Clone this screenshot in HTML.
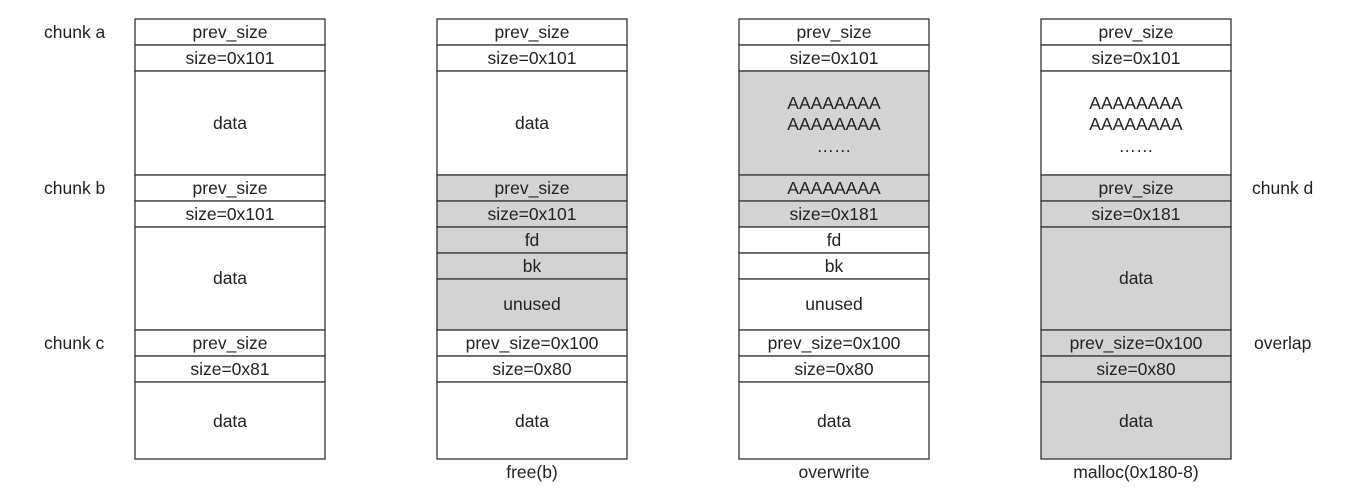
<!DOCTYPE html>
<html><head><meta charset="utf-8"><style>
html,body{margin:0;padding:0;background:#fff;}
svg{display:block;}
text{font-family:"Liberation Sans",sans-serif;font-size:17.5px;fill:#222;}
</style></head><body>
<svg width="1351" height="500" viewBox="0 0 1351 500" xmlns="http://www.w3.org/2000/svg">
<g stroke="#333" stroke-width="1.3">
<rect x="135" y="19" width="190" height="26" fill="#fff"/>
<rect x="135" y="45" width="190" height="26" fill="#fff"/>
<rect x="135" y="71" width="190" height="104" fill="#fff"/>
<rect x="135" y="175" width="190" height="26" fill="#fff"/>
<rect x="135" y="201" width="190" height="26" fill="#fff"/>
<rect x="135" y="227" width="190" height="103" fill="#fff"/>
<rect x="135" y="330" width="190" height="26" fill="#fff"/>
<rect x="135" y="356" width="190" height="26" fill="#fff"/>
<rect x="135" y="382" width="190" height="77" fill="#fff"/>
<rect x="437" y="19" width="190" height="26" fill="#fff"/>
<rect x="437" y="45" width="190" height="26" fill="#fff"/>
<rect x="437" y="71" width="190" height="104" fill="#fff"/>
<rect x="437" y="175" width="190" height="26" fill="#d3d3d3"/>
<rect x="437" y="201" width="190" height="26" fill="#d3d3d3"/>
<rect x="437" y="227" width="190" height="26" fill="#d3d3d3"/>
<rect x="437" y="253" width="190" height="26" fill="#d3d3d3"/>
<rect x="437" y="279" width="190" height="51" fill="#d3d3d3"/>
<rect x="437" y="330" width="190" height="26" fill="#fff"/>
<rect x="437" y="356" width="190" height="26" fill="#fff"/>
<rect x="437" y="382" width="190" height="77" fill="#fff"/>
<rect x="739" y="19" width="190" height="26" fill="#fff"/>
<rect x="739" y="45" width="190" height="26" fill="#fff"/>
<rect x="739" y="71" width="190" height="104" fill="#d3d3d3"/>
<rect x="739" y="175" width="190" height="26" fill="#d3d3d3"/>
<rect x="739" y="201" width="190" height="26" fill="#d3d3d3"/>
<rect x="739" y="227" width="190" height="26" fill="#fff"/>
<rect x="739" y="253" width="190" height="26" fill="#fff"/>
<rect x="739" y="279" width="190" height="51" fill="#fff"/>
<rect x="739" y="330" width="190" height="26" fill="#fff"/>
<rect x="739" y="356" width="190" height="26" fill="#fff"/>
<rect x="739" y="382" width="190" height="77" fill="#fff"/>
<rect x="1041" y="19" width="190" height="26" fill="#fff"/>
<rect x="1041" y="45" width="190" height="26" fill="#fff"/>
<rect x="1041" y="71" width="190" height="104" fill="#fff"/>
<rect x="1041" y="175" width="190" height="26" fill="#d3d3d3"/>
<rect x="1041" y="201" width="190" height="26" fill="#d3d3d3"/>
<rect x="1041" y="227" width="190" height="103" fill="#d3d3d3"/>
<rect x="1041" y="330" width="190" height="26" fill="#d3d3d3"/>
<rect x="1041" y="356" width="190" height="26" fill="#d3d3d3"/>
<rect x="1041" y="382" width="190" height="77" fill="#d3d3d3"/>
</g>
<g text-anchor="middle">
<text x="230" y="38">prev_size</text><text x="230" y="64">size=0x101</text><text x="230" y="129">data</text>
<text x="230" y="194">prev_size</text><text x="230" y="220">size=0x101</text><text x="230" y="284">data</text>
<text x="230" y="349">prev_size</text><text x="230" y="375">size=0x81</text><text x="230" y="427">data</text>

<text x="532" y="38">prev_size</text><text x="532" y="64">size=0x101</text><text x="532" y="129">data</text>
<text x="532" y="194">prev_size</text><text x="532" y="220">size=0x101</text><text x="532" y="246">fd</text><text x="532" y="272">bk</text><text x="532" y="310">unused</text>
<text x="532" y="349">prev_size=0x100</text><text x="532" y="375">size=0x80</text><text x="532" y="427">data</text>
<text x="532" y="478">free(b)</text>

<text x="834" y="38">prev_size</text><text x="834" y="64">size=0x101</text>
<text x="834" y="109">AAAAAAAA</text><text x="834" y="130">AAAAAAAA</text><text x="834" y="152">……</text>
<text x="834" y="194">AAAAAAAA</text><text x="834" y="220">size=0x181</text><text x="834" y="246">fd</text><text x="834" y="272">bk</text><text x="834" y="310">unused</text>
<text x="834" y="349">prev_size=0x100</text><text x="834" y="375">size=0x80</text><text x="834" y="427">data</text>
<text x="834" y="478">overwrite</text>

<text x="1136" y="38">prev_size</text><text x="1136" y="64">size=0x101</text>
<text x="1136" y="109">AAAAAAAA</text><text x="1136" y="130">AAAAAAAA</text><text x="1136" y="152">……</text>
<text x="1136" y="194">prev_size</text><text x="1136" y="220">size=0x181</text><text x="1136" y="284">data</text>
<text x="1136" y="349">prev_size=0x100</text><text x="1136" y="375">size=0x80</text><text x="1136" y="427">data</text>
<text x="1136" y="478">malloc(0x180-8)</text>
</g>
<text x="44" y="38">chunk a</text>
<text x="44" y="194">chunk b</text>
<text x="44" y="349">chunk c</text>
<text x="1252" y="194">chunk d</text>
<text x="1254" y="349">overlap</text>
</svg>
</body></html>
